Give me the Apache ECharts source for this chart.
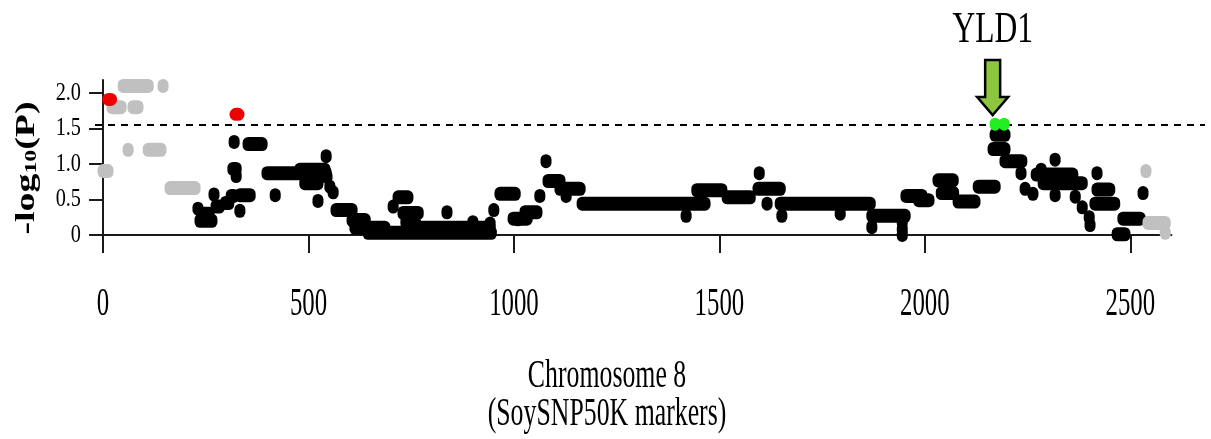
<!DOCTYPE html>
<html>
<head>
<meta charset="utf-8">
<script src="https://cdn.jsdelivr.net/npm/echarts@6/dist/echarts.min.js"></script>
<style>
  html, body { margin: 0; padding: 0; background: #fff; }
  #chart { width: 1211px; height: 439px; }
</style>
</head>
<body>
<div id="chart"></div>
<script>
// runs of overlapping markers: [first marker x, last marker x, -log10(P)]
const blackRuns = [
  [231, 231, 0.37], [236, 265, 0.20], [243, 258, 0.30], [270, 270, 0.57],
  [275, 283, 0.40], [298, 306, 0.45], [312, 318, 0.55], [316, 324, 0.93],
  [324, 324, 0.83], [319, 319, 1.31], [333, 333, 0.34], [333, 358, 0.56],
  [353, 387, 1.28], [399, 543, 0.87], [419, 419, 0.56], [479, 540, 0.92],
  [491, 523, 0.73], [523, 523, 0.48], [543, 543, 1.11], [545, 545, 0.82],
  [552, 552, 0.68], [560, 560, 0.60], [567, 606, 0.35], [606, 638, 0.21],
  [613, 686, 0.10], [645, 945, 0.03], [706, 706, 0.40], [718, 742, 0.53],
  [730, 767, 0.31], [737, 760, 0.18], [767, 942, 0.10], [837, 837, 0.32],
  [900, 900, 0.18], [942, 942, 0.16], [951, 951, 0.35],
  [966, 1003, 0.58], [998, 1032, 0.23], [1027, 1056, 0.32], [1010, 1010, 0.22],
  [1063, 1063, 0.55], [1078, 1078, 1.04], [1083, 1112, 0.76], [1112, 1161, 0.65],
  [1127, 1127, 0.55], [1166, 1465, 0.44], [1419, 1419, 0.27], [1445, 1506, 0.63],
  [1519, 1575, 0.53], [1597, 1597, 0.87], [1594, 1648, 0.65], [1616, 1616, 0.44],
  [1652, 1652, 0.27], [1648, 1867, 0.44], [1794, 1794, 0.30], [1871, 1952, 0.27],
  [1871, 1871, 0.11], [1945, 1945, 0.18], [1945, 1945, 0.08], [1945, 1945, 0.00],
  [1954, 1993, 0.55], [1985, 2010, 0.49], [2032, 2069, 0.77], [2040, 2070, 0.59],
  [2081, 2122, 0.47], [2130, 2171, 0.68], [2166, 2195, 1.21], [2171, 2195, 1.41],
  [2195, 2236, 1.04], [2234, 2234, 0.87], [2244, 2244, 0.65], [2263, 2263, 0.58],
  [2271, 2360, 0.85], [2283, 2283, 0.92], [2317, 2317, 1.06], [2317, 2317, 0.56],
  [2288, 2383, 0.73], [2366, 2366, 0.54], [2383, 2383, 0.39], [2402, 2402, 0.14],
  [2400, 2400, 0.25], [2419, 2419, 0.87], [2419, 2450, 0.64], [2414, 2462, 0.44],
  [2468, 2487, 0.01], [2482, 2524, 0.23], [2531, 2531, 0.59]
];
const greyRuns = [
  [0, 12, 0.90], [49, 110, 2.10], [146, 146, 2.10], [22, 44, 1.80], [73, 85, 1.80],
  [61, 61, 1.20], [110, 141, 1.20], [163, 224, 0.66],
  [2538, 2538, 0.90], [2543, 2585, 0.17], [2585, 2585, 0.03]
];
const redRuns = [[16, 16, 1.91], [326, 326, 1.70]];
const greenRuns = [[2171, 2171, 1.56], [2193, 2193, 1.56]];

const xTicks = [0, 500, 1000, 1500, 2000, 2500];
const xTickLabels = ['0', '500', '1000', '1500', '2000', '2500'];
const yTicks = [0, 0.5, 1, 1.5, 2];
const yTickLabels = ['0', '0.5', '1.0', '1.5', '2.0'];
const threshold = 1.55;
const geneName = 'YLD1';
const geneX = 2165;

const serif = '"Liberation Serif", "Times New Roman", serif';
const chart = echarts.init(document.getElementById('chart'));

function runSeries(data, color, w, h) {
  return {
    type: 'custom',
    data: data,
    encode: { x: [0, 1], y: 2 },
    silent: true,
    animation: false,
    renderItem: function (params, api) {
      const a = api.coord([api.value(0), api.value(2)]);
      const b = api.coord([api.value(1), api.value(2)]);
      return {
        type: 'rect',
        shape: { x: a[0] - w / 2, y: a[1] - h / 2, width: b[0] - a[0] + w, height: h, r: w / 2 },
        style: { fill: color }
      };
    }
  };
}

chart.setOption({
  animation: false,
  grid: { left: 101, right: 39.6, top: 80, bottom: 197.3 },
  xAxis: {
    type: 'value', min: -5, max: 2600,
    axisLine: { lineStyle: { color: '#1a1a1a', width: 2 } },
    axisTick: { customValues: xTicks, length: 18, lineStyle: { color: '#1a1a1a', width: 2 } },
    axisLabel: { show: false },
    splitLine: { show: false }
  },
  yAxis: {
    type: 'value', min: -0.095, max: 2.183,
    axisLine: { show: true, lineStyle: { color: '#1a1a1a', width: 2 } },
    axisTick: { show: true, customValues: yTicks, length: 14, lineStyle: { color: '#1a1a1a', width: 2 } },
    axisLabel: { show: false },
    splitLine: { show: false }
  },
  series: [
    runSeries(blackRuns, '#000000', 11, 14),
    runSeries(greyRuns, '#c0c0c0', 11, 14),
    runSeries(greenRuns, '#22ee22', 11, 13),
    runSeries(redRuns, '#ee0000', 15, 13)
  ]
});

// texts and annotation placed with the chart's own scales
const gfx = [];
const yLine = chart.convertToPixel({ yAxisIndex: 0 }, threshold);
gfx.push({
  type: 'line', z: 0,
  shape: { x1: 95, y1: yLine, x2: 1205, y2: yLine },
  style: { stroke: '#000', lineWidth: 2, lineDash: [7, 6] }
});
xTicks.forEach(function (v, i) {
  gfx.push({
    type: 'text', x: chart.convertToPixel({ xAxisIndex: 0 }, v), y: 304, scaleX: 0.62,
    style: { text: xTickLabels[i], font: '40px ' + serif, fill: '#000', align: 'center', verticalAlign: 'middle' }
  });
});
yTicks.forEach(function (v, i) {
  gfx.push({
    type: 'text', x: 81, y: chart.convertToPixel({ yAxisIndex: 0 }, v), scaleX: 0.78,
    style: { text: yTickLabels[i], font: '26px ' + serif, fill: '#000', align: 'right', verticalAlign: 'middle' }
  });
});
gfx.push({
  type: 'text', x: 27, y: 168, rotation: Math.PI / 2, scaleX: 1.4,
  style: {
    text: '-log{sub|10}(P)', font: 'bold 27px ' + serif, fill: '#000', align: 'center', verticalAlign: 'middle',
    rich: { sub: { fontSize: 17, fontWeight: 'bold', fontFamily: serif, verticalAlign: 'bottom', padding: [8, 0, 0, 0] } }
  }
});
gfx.push({
  type: 'text', x: 607, y: 376, scaleX: 0.645,
  style: { text: 'Chromosome 8', font: '40px ' + serif, fill: '#000', align: 'center', verticalAlign: 'middle' }
});
gfx.push({
  type: 'text', x: 607, y: 414, scaleX: 0.645,
  style: { text: '(SoySNP50K markers)', font: '40px ' + serif, fill: '#000', align: 'center', verticalAlign: 'middle' }
});
const ax = chart.convertToPixel({ xAxisIndex: 0 }, geneX);
gfx.push({
  type: 'text', x: ax, y: 30, scaleX: 0.7,
  style: { text: geneName, font: '45px ' + serif, fill: '#000', align: 'center', verticalAlign: 'middle' }
});
gfx.push({
  type: 'polygon',
  shape: { points: [[ax - 7.5, 60], [ax + 7.5, 60], [ax + 7.5, 97], [ax + 15.5, 97], [ax, 115], [ax - 15.5, 97], [ax - 7.5, 97]] },
  style: { fill: '#8cc63f', stroke: '#000', lineWidth: 2.5, lineJoin: 'miter' }
});
chart.setOption({ graphic: gfx });
</script>
</body>
</html>
